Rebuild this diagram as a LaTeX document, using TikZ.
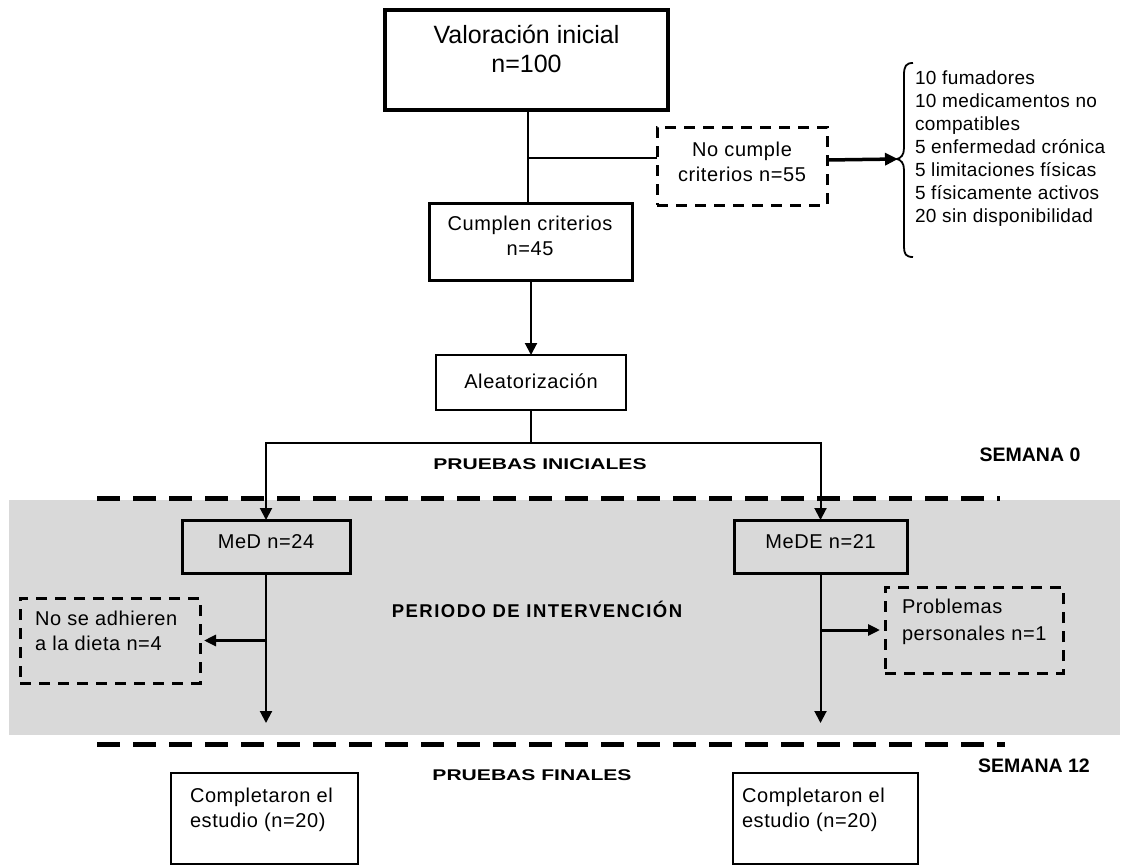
\documentclass[tikz,border=0pt]{standalone}
\usepackage{fontspec}
\setmainfont{Liberation Sans}
\newfontfamily\txtfont[LetterSpace=3]{Liberation Sans}
\newfontfamily\listfont[LetterSpace=2]{Liberation Sans}
\newfontfamily\titlefont{Liberation Sans}
\newfontfamily\stagefont[FakeStretch=1.36]{Liberation Sans}
\newfontfamily\periodfont[LetterSpace=8]{Liberation Sans}
\usetikzlibrary{arrows.meta}

\definecolor{phasegray}{HTML}{D9D9D9}

\tikzset{
  every node/.style={inner sep=0pt, outer sep=0pt},
  solidbox/.style={draw, line width=3pt, anchor=north west},
  dashbox/.style={draw, line width=3pt, dash pattern=on 11pt off 8pt, anchor=north west},
  conn/.style={line width=2pt},
  arr/.style={conn, -{Triangle[length=12pt,width=12pt]}},
  sidearr/.style={line width=3pt, -{Triangle[length=12pt,width=11pt]}},
  phaseline/.style={line width=5pt, dash pattern=on 23pt off 13pt},
  txt/.style={font=\txtfont\fontsize{20}{25}\selectfont},
  listtxt/.style={font=\listfont\fontsize{19}{23}\selectfont, align=left},
  titletxt/.style={font=\titlefont\fontsize{25}{29}\selectfont, align=center},
  stagetxt/.style={font=\stagefont\bfseries\fontsize{15.5}{18}\selectfont},
  weektxt/.style={font=\titlefont\bfseries\fontsize{19.5}{22}\selectfont},
  periodtxt/.style={font=\periodfont\bfseries\fontsize{18.5}{22}\selectfont},
}

\begin{document}
\begin{tikzpicture}[x=1pt, y=-1pt]
\path[use as bounding box] (0,0) rectangle (1129,865);

% intervention period band
\fill[phasegray] (9,500) rectangle (1120,735);
\draw[phaseline] (97,498) -- (1000,498);
\draw[phaseline] (97,744) -- (1005,744);

% boxes
\node[solidbox, line width=4.5pt, minimum width=283, minimum height=100] (val) at (385,10) {};
\node[titletxt] (valtxt) at (526.5,49) {Valoración inicial\\n=100};

\node[solidbox, minimum width=203, minimum height=77] (cum) at (429,203) {};
\node[txt, align=center] (cumtxt) at (530,236) {Cumplen criterios\\n=45};

\node[dashbox, minimum width=170, minimum height=78] (nc) at (657,127) {};
\node[txt, align=center] (nctxt) at (742,162) {No cumple\\criterios n=55};

\node[solidbox, line width=2.5pt, minimum width=190, minimum height=55] (ale) at (436,355) {};
\node[txt] (aletxt) at (531,381) {Aleatorización};

\node[solidbox, minimum width=168, minimum height=53] (med) at (182,520) {};
\node[txt] (medtxt) at (266,542) {MeD n=24};

\node[solidbox, minimum width=173, minimum height=53] (mede) at (734,520) {};
\node[txt] (medetxt) at (820.5,542) {MeDE n=21};

\node[dashbox, minimum width=180, minimum height=85] (adh) at (20,598) {};
\node[txt, align=left, anchor=west] (adhtxt) at (35,630.5) {No se adhieren\\a la dieta n=4};

\node[dashbox, minimum width=178, minimum height=86] (prob) at (885,587) {};
\node[txt, align=left, anchor=west, font=\txtfont\fontsize{20}{27}\selectfont] (probtxt) at (902,621.5) {Problemas\\personales n=1};

\node[solidbox, line width=2.5pt, minimum width=187, minimum height=91] (compL) at (171,773) {};
\node[txt, align=left, anchor=west] (compLtxt) at (190,809.5) {Completaron el\\estudio (n=20)};

\node[solidbox, line width=2.5pt, minimum width=185, minimum height=91] (compR) at (733,773) {};
\node[txt, align=left, anchor=west] (compRtxt) at (742,809.5) {Completaron el\\estudio (n=20)};

% exclusion reasons
\node[listtxt, anchor=west] (reasons) at (915,149) {10 fumadores\\10 medicamentos no\\compatibles\\5 enfermedad crónica\\5 limitaciones físicas\\5 físicamente activos\\20 sin disponibilidad};
\coordinate (bt) at (897,159);
\draw[line width=1.8pt] (913,63) .. controls (906,63) and (904,66) .. (904,75) -- (904,148)
  .. controls (904,155) and (901,158) .. (bt)
  .. controls (901,160) and (904,163) .. (904,170) -- (904,247)
  .. controls (904,254) and (906,257) .. (913,257);

% phase labels
\node[stagetxt] (pini) at (540,464) {PRUEBAS INICIALES};
\node[weektxt] (s0) at (1030,455) {SEMANA 0};
\node[periodtxt] (period) at (537,609) {PERIODO DE INTERVENCIÓN};
\node[stagetxt] (pfin) at (532,775) {PRUEBAS FINALES};
\node[weektxt] (s12) at (1034,766) {SEMANA 12};

% connectors
\draw[conn] (val.south -| 528,0) -- (cum.north -| 528,0);
\draw[conn] ([yshift=8pt]nc.west) -- ([yshift=8pt]nc.west -| 528,0);
\draw[sidearr, line width=3.5pt, -{Triangle[length=13pt,width=12pt]}, shorten >=-1pt] ([yshift=6pt]nc.east) -- (bt);
\draw[arr] (cum.south -| ale.north) -- (ale.north);

\coordinate (split) at (531,443);
\draw[conn] (ale.south) -- (split);
\draw[arr] (split) -| (med.north);
\draw[arr] (split) -| (mede.north);

\coordinate (medend) at (266,723);
\coordinate (medeend) at (820.5,723);
\draw[arr] (med.south) -- (medend);
\draw[arr] (mede.south) -- (medeend);
\draw[sidearr, shorten >=4pt] (med.south |- adh.east) -- (adh.east);
\draw[sidearr, shorten >=5pt] (mede.south |- prob.west) -- (prob.west);
\end{tikzpicture}
\end{document}
